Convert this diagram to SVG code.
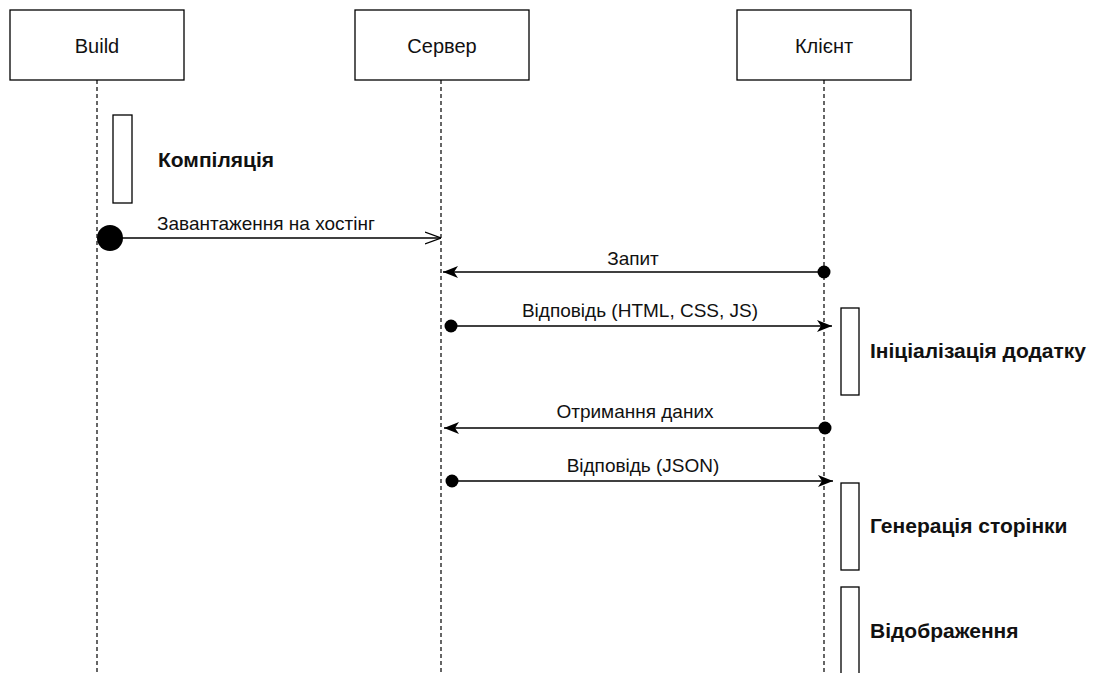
<svg xmlns="http://www.w3.org/2000/svg" width="1093" height="673" viewBox="0 0 1093 673">
<style>
.box{fill:#fff;stroke:#000;stroke-width:1.3}
.life{stroke:#000;stroke-width:1.2;stroke-dasharray:4 3;fill:none}
.act{fill:#fff;stroke:#000;stroke-width:1.3}
.msg{stroke:#000;stroke-width:1.5;fill:none}
.t{font-family:"Liberation Sans",Arial,sans-serif;font-size:19px;fill:#111}
.h{font-family:"Liberation Sans",Arial,sans-serif;font-size:20px;fill:#111;text-anchor:middle}
.b{font-family:"Liberation Sans",Arial,sans-serif;font-size:21px;font-weight:bold;fill:#111}
</style>
<defs>
<marker id="fa" viewBox="0 0 15 13" refX="15" refY="6.5" markerWidth="15" markerHeight="13" markerUnits="userSpaceOnUse" orient="auto"><path d="M0,0.5 L15,6.5 L0,12.5 L4,6.5 Z" fill="#000"/></marker>
<marker id="oa" viewBox="0 0 16 14" refX="16" refY="7" markerWidth="16" markerHeight="14" markerUnits="userSpaceOnUse" orient="auto"><path d="M0,1 L16,7 L0,13" fill="none" stroke="#000" stroke-width="1.3"/></marker>
</defs>
<rect width="1093" height="673" fill="#fff"/>
<g id="build">
<rect class="box" x="10" y="10" width="174" height="70"/>
<text class="h" x="97" y="53">Build</text>
<line class="life" x1="97" y1="80" x2="97" y2="673"/>
</g>
<g id="server">
<rect class="box" x="355" y="10" width="174" height="70"/>
<text class="h" x="442" y="53">Сервер</text>
<line class="life" x1="441" y1="80" x2="441" y2="673"/>
</g>
<g id="client">
<rect class="box" x="737" y="10" width="174" height="70"/>
<text class="h" x="824" y="53">Клієнт</text>
<line class="life" x1="824" y1="80" x2="824" y2="673"/>
</g>
<g id="act-compile">
<rect class="act" x="113" y="115" width="19" height="88"/>
<text class="b" x="158" y="167">Компіляція</text>
</g>
<g id="act-init">
<rect class="act" x="841" y="308" width="18" height="87"/>
<text class="b" x="870" y="358">Ініціалізація додатку</text>
</g>
<g id="act-gen">
<rect class="act" x="841" y="483" width="18" height="87"/>
<text class="b" x="870" y="533">Генерація сторінки</text>
</g>
<g id="act-render">
<rect class="act" x="841" y="587" width="18" height="100"/>
<text class="b" x="870" y="638">Відображення</text>
</g>
<g id="connectors">
<circle cx="110" cy="238" r="13" fill="#000"/>
<line class="msg" x1="110" y1="238" x2="441" y2="238" marker-end="url(#oa)"/>
<text class="t" x="157" y="230">Завантаження на хостінг</text>
<circle cx="824" cy="272" r="6.5" fill="#000"/>
<line class="msg" x1="824" y1="272" x2="443" y2="272" marker-end="url(#fa)"/>
<text class="t" x="633" y="265" text-anchor="middle">Запит</text>
<circle cx="451" cy="326" r="6.5" fill="#000"/>
<line class="msg" x1="451" y1="326" x2="832" y2="326" marker-end="url(#fa)"/>
<text class="t" x="640" y="317" text-anchor="middle">Відповідь (HTML, CSS, JS)</text>
<circle cx="825" cy="428" r="6.5" fill="#000"/>
<line class="msg" x1="825" y1="428" x2="444" y2="428" marker-end="url(#fa)"/>
<text class="t" x="635" y="418" text-anchor="middle">Отримання даних</text>
<circle cx="452" cy="481" r="6.5" fill="#000"/>
<line class="msg" x1="452" y1="481" x2="833" y2="481" marker-end="url(#fa)"/>
<text class="t" x="643" y="472" text-anchor="middle">Відповідь (JSON)</text>
</g>
</svg>
